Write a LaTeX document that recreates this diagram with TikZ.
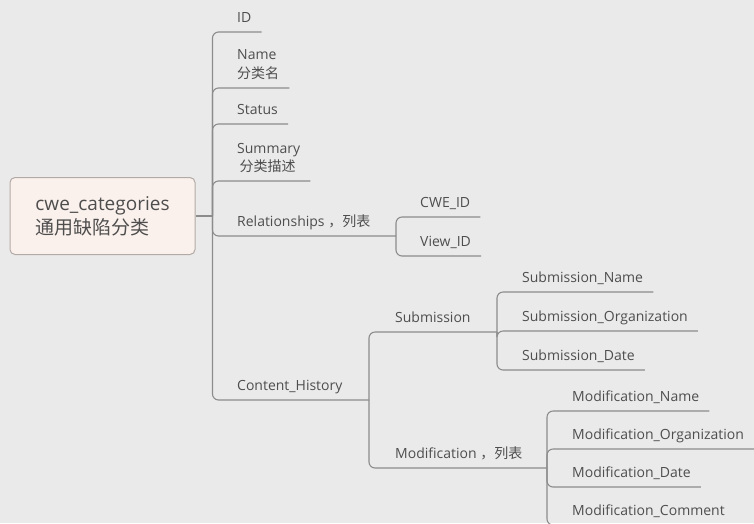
\documentclass[tikz,border=0pt]{standalone}
\usepackage{fontspec}
\setmainfont{Open Sans}
\newfontfamily\cjk{Noto Sans CJK SC}
\definecolor{bgc}{HTML}{EAEAEA}
\definecolor{lnc}{HTML}{8C8C8C}
\definecolor{txc}{HTML}{4E4E4E}
\definecolor{rootfill}{HTML}{FBF1EC}
\definecolor{rootline}{HTML}{B3AAA6}
\tikzset{
  topic/.style={anchor=south west, inner sep=0pt, text depth=0pt, align=left,
    text=txc, font=\fontsize{14}{19}\selectfont},
  rootbox/.style={draw=rootline, fill=rootfill, line width=1pt, rounded corners=5pt,
    minimum width=185pt, minimum height=77pt, align=left, text=txc,
    font=\fontsize{19}{24}\selectfont},
  link/.style={draw=lnc, line width=1.1pt, rounded corners=6pt},
}
% underline end of a leaf topic: a little past its text, just under the baseline
\newcommand{\uline}[1]{\coordinate (#1-u) at ([shift={(10pt,-9.5pt)}]#1.south east);}
\begin{document}
\begin{tikzpicture}[x=1pt,y=-1pt]
\fill[bgc] (0,0) rectangle (754,523);
\useasboundingbox (0,0) rectangle (754,523);
\clip (0,0) rectangle (754,523);

% central topic
\node[rootbox] (root) at (102.5,216) {cwe\_categories\\{\cjk 通用缺陷分类}};
\coordinate (root-j) at ([xshift=17pt]root.east);

% first level
\node[topic] (id) at (237,22.5) {ID};\uline{id}
\node[topic] (name) at (237,78.5) {Name\\{\cjk 分类名}};\uline{name}
\node[topic] (status) at (237,114.5) {Status};\uline{status}
\node[topic] (summary) at (237,171.5) {Summary\\[-1pt]\,{\cjk 分类描述}};\uline{summary}
\node[topic] (rel) at (237,226.5) {Relationships {\cjk ，列表}};
\coordinate (rel-u) at (396,236);
\node[topic] (hist) at (237,390.5) {Content\_History};
\coordinate (hist-u) at (369,400);

% relationships
\node[topic] (cweid) at (420,207.5) {CWE\_ID};\uline{cweid}
\node[topic] (viewid) at (420,246.5) {View\_ID};\uline{viewid}

% content history
\node[topic] (sub) at (395,322.5) {Submission};
\coordinate (sub-u) at (497,332);
\node[topic] (mod) at (395,458.5) {Modification {\cjk ，列表}};
\coordinate (mod-u) at (547,468);

% submission
\node[topic] (subname) at (522,282.5) {Submission\_Name};\uline{subname}
\node[topic] (suborg) at (522,321.5) {Submission\_Organization};\uline{suborg}
\node[topic] (subdate) at (522,360.5) {Submission\_Date};\uline{subdate}

% modification
\node[topic] (modname) at (572,401.5) {Modification\_Name};\uline{modname}
\node[topic] (modorg) at (572,439.5) {Modification\_Organization};\uline{modorg}
\node[topic] (moddate) at (572,477.5) {Modification\_Date};\uline{moddate}
\node[topic] (modcom) at (572,515.5) {Modification\_Comment};\uline{modcom}

% connectors (each ends with the child's underline)
\draw[link] (root.east) -- (root-j);
\foreach \c in {id,name,status,summary,rel,hist}
  \draw[link] (root-j) |- (\c-u);
\foreach \c in {cweid,viewid}
  \draw[link] (rel-u) |- (\c-u);
\foreach \c in {sub,mod}
  \draw[link] (hist-u) |- (\c-u);
\foreach \c in {subname,suborg,subdate}
  \draw[link] (sub-u) |- (\c-u);
\foreach \c in {modname,modorg,moddate,modcom}
  \draw[link] (mod-u) |- (\c-u);
\end{tikzpicture}
\end{document}
